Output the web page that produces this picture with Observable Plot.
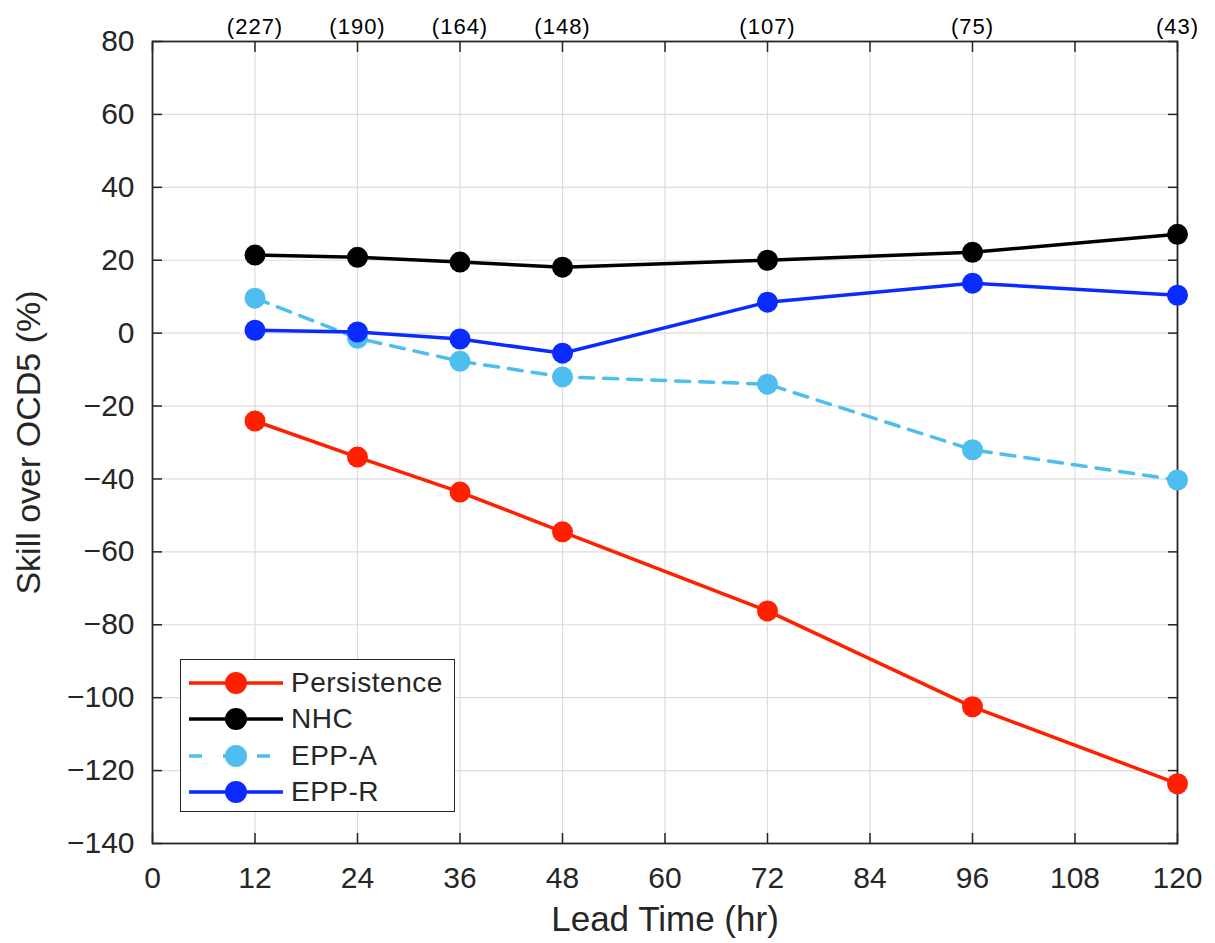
<!DOCTYPE html>
<html>
<head>
<meta charset="utf-8">
<script src="https://cdn.jsdelivr.net/npm/d3@7"></script>
<script src="https://cdn.jsdelivr.net/npm/@observablehq/plot@0.6"></script>
<style>
  html, body { margin: 0; padding: 0; background: #fff; }
  #wrap { position: relative; width: 1215px; height: 943px; font-family: "Liberation Sans", Arial, sans-serif; }
  #legend { position: absolute; left: 180px; top: 659px; width: 275px; height: 153px; border: 1.5px solid #262626; background: #fff; box-sizing: border-box; padding-top: 5px; }
  .row { display: flex; align-items: center; height: 36.3px; }
  .row svg { margin-left: 8px; margin-right: 8px; flex: none; }
  .row span { font-size: 28px; color: #262626; letter-spacing: 0.5px; line-height: 1; }
  .counts text { letter-spacing: 1px; }
</style>
</head>
<body>
<div id="wrap"></div>
<script>
const leadTimes = [12, 24, 36, 48, 72, 96, 120];
const caseCounts = [227, 190, 164, 148, 107, 75, 43];
const seriesNames = ["Persistence", "NHC", "EPP-A", "EPP-R"];
const persistence = [-24.1, -34.0, -43.6, -54.5, -76.2, -102.5, -123.6];
const nhc = [21.4, 20.8, 19.5, 18.1, 20.0, 22.2, 27.1];
const eppA = [9.6, -1.4, -7.7, -12.0, -14.0, -32.0, -40.3];
const eppR = [0.8, 0.3, -1.6, -5.5, 8.5, 13.7, 10.4];
const xTicks = [0, 12, 24, 36, 48, 60, 72, 84, 96, 108, 120];
const yTicks = [80, 60, 40, 20, 0, -20, -40, -60, -80, -100, -120, -140];
const colors = ["#ff2000", "#000000", "#4dbeee", "#0a2bff"];
const dashes = [null, null, "14,10", null];

const values = [persistence, nhc, eppA, eppR];
const rows = [];
seriesNames.forEach((s, k) => values[k].forEach((v, i) => rows.push({series: s, lead: leadTimes[i], skill: v})));

const lineMarks = [];
seriesNames.forEach((s, k) => {
  const d = rows.filter(r => r.series === s);
  lineMarks.push(Plot.line(d, {x: "lead", y: "skill", stroke: colors[k], strokeWidth: 3.5, strokeDasharray: dashes[k] || undefined}));
  lineMarks.push(Plot.dot(d, {x: "lead", y: "skill", r: 10.5, fill: colors[k], stroke: "none"}));
});

const plot = Plot.plot({
  width: 1215,
  height: 943,
  marginTop: 41,
  marginLeft: 152,
  marginRight: 38,
  marginBottom: 100,
  style: {fontFamily: "Liberation Sans, Arial, sans-serif", background: "#fff", overflow: "visible"},
  x: {domain: [0, 120]},
  y: {domain: [-140, 80]},
  marks: [
    Plot.gridX(xTicks, {stroke: "#dcdcdc", strokeOpacity: 1, strokeWidth: 1.2}),
    Plot.gridY(yTicks, {stroke: "#dcdcdc", strokeOpacity: 1, strokeWidth: 1.2}),
    Plot.axisX(xTicks, {anchor: "bottom", tickSize: 0, tickPadding: 23, fontSize: 30, fill: "#262626", label: null}),
    Plot.axisX(xTicks, {anchor: "bottom", tickSize: -10, text: null, stroke: "#262626", strokeWidth: 1.5, label: null}),
    Plot.axisX(xTicks, {anchor: "top", tickSize: -10, text: null, stroke: "#262626", strokeWidth: 1.5, label: null}),
    Plot.axisX(leadTimes, {anchor: "top", tickSize: 0, tickPadding: 8, fontSize: 22, fill: "#000", label: null, className: "counts",
      tickFormat: d => `(${caseCounts[leadTimes.indexOf(d)]})`}),
    Plot.axisY(yTicks, {anchor: "left", tickSize: 0, tickPadding: 18, fontSize: 30, fill: "#262626", label: null}),
    Plot.axisY(yTicks, {anchor: "left", tickSize: -10, text: null, stroke: "#262626", strokeWidth: 1.5, label: null}),
    Plot.axisY(yTicks, {anchor: "right", tickSize: -10, text: null, stroke: "#262626", strokeWidth: 1.5, label: null}),
    Plot.frame({stroke: "#262626", strokeWidth: 1.8}),
    ...lineMarks,
    Plot.text(["Lead Time (hr)"], {frameAnchor: "bottom", lineAnchor: "middle", textAnchor: "middle", dy: 76, fontSize: 35, fill: "#262626"}),
    Plot.text(["Skill over OCD5 (%)"], {frameAnchor: "left", lineAnchor: "middle", textAnchor: "middle", dx: -123, rotate: -90, fontSize: 34, fill: "#262626"})
  ]
});

const wrap = document.getElementById("wrap");
wrap.appendChild(plot);

const legend = document.createElement("div");
legend.id = "legend";
seriesNames.forEach((s, k) => {
  const row = document.createElement("div");
  row.className = "row";
  row.innerHTML = `<svg width="94" height="26"><line x1="0" x2="94" y1="13" y2="13" stroke="${colors[k]}" stroke-width="3.5" ${dashes[k] ? 'stroke-dasharray="13,21"' : ""}/><circle cx="47" cy="13" r="11" fill="${colors[k]}"/></svg><span>${s}</span>`;
  legend.appendChild(row);
});
wrap.appendChild(legend);
</script>
</body>
</html>
